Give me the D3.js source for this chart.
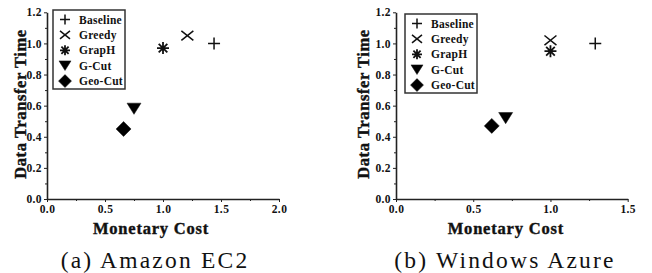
<!DOCTYPE html>
<html>
<head>
<meta charset="utf-8">
<script src="https://cdn.jsdelivr.net/npm/d3@7"></script>
<style>
  body { margin: 0; background: #fff; }
  text { font-family: "Liberation Serif", "Times New Roman", serif; fill: #111; }
  .axis path, .axis line { stroke: #222; }
  .axis text { font-weight: bold; font-size: 11.5px; letter-spacing: 0.4px; }
</style>
</head>
<body>
<svg id="chart" width="652" height="273"></svg>
<script>
// series names and shapes
const series = ['Baseline', 'Greedy', 'GrapH', 'G-Cut', 'Geo-Cut']
const shapes = ['plus', 'times', 'asterisk', 'triangle', 'diamond']

// (a) Amazon EC2
const ec2Cost = [1.44, 1.21, 1.0, 0.75, 0.66]
const ec2Time = [1.0, 1.05, 0.97, 0.58, 0.45]
const ec2XTicks = [0, 0.5, 1.0, 1.5, 2.0]

// (b) Windows Azure
const azureCost = [1.29, 1.0, 1.0, 0.71, 0.62]
const azureTime = [1.0, 1.02, 0.95, 0.52, 0.47]
const azureXTicks = [0, 0.5, 1.0, 1.5]

const yTicks = [0, 0.2, 0.4, 0.6, 0.8, 1.0, 1.2]
const captions = ['(a) Amazon EC2', '(b) Windows Azure']

const svg = d3.select('#chart')

/**
 * Path for one marker, centred on 0,0.
 */
function marker(type, s) {
  const h = s / 2
  if (type === 'plus') return `M${-h},0H${h}M0,${-h}V${h}`
  if (type === 'times') return `M${-h},${-h * 0.8}L${h},${h * 0.8}M${-h},${h * 0.8}L${h},${-h * 0.8}`
  if (type === 'asterisk') {
    const d = h * 0.72
    return `M${-h},0H${h}M0,${-h}V${h}M${-d},${-d}L${d},${d}M${-d},${d}L${d},${-d}`
  }
  if (type === 'triangle') return `M${-h},${-h * 0.8}H${h}L0,${h * 0.8}Z`
  if (type === 'diamond') return `M0,${-h}L${h},0L0,${h}L${-h},0Z`
}

function drawMarker(g, type, s) {
  const filled = type === 'triangle' || type === 'diamond'
  g.append('path')
    .attr('d', marker(type, s))
    .attr('fill', filled ? '#000' : 'none')
    .attr('stroke', '#111')
    .attr('stroke-width', filled ? 0.5 : type === 'asterisk' ? 1.8 : 1.5)
}

function panel(opt) {
  const x = d3.scaleLinear().domain([0, opt.xMax]).range([opt.left, opt.right])
  const y = d3.scaleLinear().domain([0, 1.2]).range([opt.bottom, opt.top])

  const minorX = d3.range(0.25, opt.xMax, 0.5)
  const minorY = d3.range(0.1, 1.2, 0.2)

  // minor ticks
  svg.append('g').attr('class', 'axis')
    .attr('transform', `translate(0,${opt.bottom})`)
    .call(d3.axisBottom(x).tickValues(minorX).tickSize(2).tickFormat(''))
    .call(g => g.select('.domain').remove())
  svg.append('g').attr('class', 'axis')
    .attr('transform', `translate(${opt.left},0)`)
    .call(d3.axisLeft(y).tickValues(minorY).tickSize(2).tickFormat(''))
    .call(g => g.select('.domain').remove())

  const xa = svg.append('g').attr('class', 'axis')
    .attr('transform', `translate(0,${opt.bottom})`)
    .call(d3.axisBottom(x).tickValues(opt.xTicks).tickSize(3).tickSizeOuter(0)
      .tickPadding(3).tickFormat(d3.format('.1f')))
  xa.select('.domain').attr('stroke-width', 1.6)

  const ya = svg.append('g').attr('class', 'axis')
    .attr('transform', `translate(${opt.left},0)`)
    .call(d3.axisLeft(y).tickValues(yTicks).tickSize(3).tickSizeOuter(0)
      .tickPadding(2).tickFormat(d3.format('.1f')))
  ya.select('.domain').attr('stroke-width', 1.6)

  // axis titles
  svg.append('text')
    .attr('x', (opt.left + opt.right) / 2 + opt.xTitleDx)
    .attr('y', 234)
    .attr('text-anchor', 'middle')
    .attr('font-weight', 'bold')
    .attr('font-size', 16.5)
    .attr('letter-spacing', 0.8)
    .attr('stroke', '#111').attr('stroke-width', 0.4)
    .text('Monetary Cost')
  svg.append('text')
    .attr('transform', `translate(${opt.yTitleX},104) rotate(-90)`)
    .attr('text-anchor', 'middle')
    .attr('dy', '0.35em')
    .attr('font-weight', 'bold')
    .attr('font-size', 16.5)
    .attr('letter-spacing', 0.6)
    .attr('stroke', '#111').attr('stroke-width', 0.4)
    .text('Data Transfer Time')

  // points
  series.forEach((name, i) => {
    const g = svg.append('g')
      .attr('transform', `translate(${x(opt.cost[i])},${y(opt.time[i])})`)
    drawMarker(g, shapes[i], shapes[i] === 'diamond' ? 15 : shapes[i] === 'triangle' ? 14 : 12)
  })

  // legend
  const lg = svg.append('g').attr('transform', `translate(${opt.legX},${opt.legY})`)
  lg.append('rect')
    .attr('width', 72).attr('height', 79)
    .attr('fill', 'none').attr('stroke', '#333').attr('stroke-width', 1.5)
  series.forEach((name, i) => {
    const row = lg.append('g').attr('transform', `translate(12,${9.5 + i * 15.4})`)
    drawMarker(row, shapes[i], shapes[i] === 'diamond' ? 13 : shapes[i] === 'triangle' ? 12 : 10)
    row.append('text')
      .attr('x', 14).attr('dy', '0.35em')
      .attr('font-weight', 'bold').attr('font-size', 11.5)
      .attr('letter-spacing', 0.25)
      .text(name)
  })

  svg.append('text')
    .attr('x', opt.capX).attr('y', 268)
    .attr('text-anchor', 'middle')
    .attr('font-size', 23.5)
    .attr('letter-spacing', 2.2)
    .text(opt.caption)
}

panel({ cost: ec2Cost, time: ec2Time, xMax: 2.0, xTicks: ec2XTicks,
  left: 47, right: 279, top: 12.3, bottom: 199,
  yTitleX: 20, xTitleDx: -12, legX: 53, legY: 10, capX: 155, caption: captions[0] })

panel({ cost: azureCost, time: azureTime, xMax: 1.5, xTicks: azureXTicks,
  left: 396, right: 627.7, top: 12.3, bottom: 199,
  yTitleX: 363, xTitleDx: -6, legX: 405, legY: 14, capX: 505, caption: captions[1] })
</script>
</body>
</html>
